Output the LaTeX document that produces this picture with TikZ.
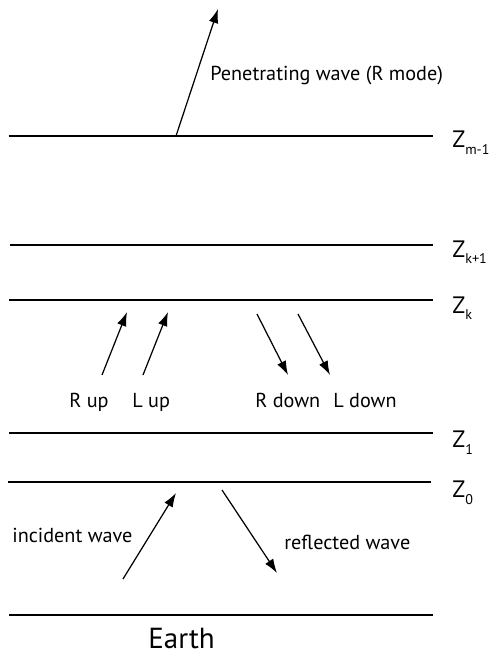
\documentclass[tikz,border=0pt]{standalone}
\usepackage{fontspec}
\setmainfont{PT Sans}
\usetikzlibrary{arrows.meta}

\begin{document}
\begin{tikzpicture}[
  font=\fontsize{11.5}{13}\selectfont,
  layer/.style={line width=0.8pt},
  wave/.style={line width=0.7pt, -{Latex[length=8pt,width=5.5pt]}},
  lbl/.style={anchor=base west, inner sep=0pt},
  zlbl/.style={anchor=base west, inner sep=0pt, font=\fontsize{13.5}{15}\selectfont}
]
\useasboundingbox (0,0) rectangle (9.78,13.12);

% layer boundaries
\draw[layer] (0.18,10.40) coordinate (zm1w) -- (8.66,10.40) coordinate (zm1e);
\draw[layer] (0.20,8.22)  coordinate (zkpw) -- (8.66,8.22)  coordinate (zkpe);
\draw[layer] (0.18,7.12)  coordinate (zkw)  -- (8.66,7.12)  coordinate (zke);
\draw[layer] (0.18,4.46)  coordinate (z1w)  -- (8.66,4.46)  coordinate (z1e);
\draw[layer] (0.16,3.48)  coordinate (z0w)  -- (8.62,3.48)  coordinate (z0e);
\draw[layer] (0.18,0.82)  coordinate (earthw) -- (8.66,0.82) coordinate (earthe);

% heights
\node[zlbl] (zm1) at (9.04,10.16) {Z\raisebox{-3.6pt}{\fontsize{8}{9}\selectfont m-1}};
\node[zlbl] (zkp) at (9.04,7.98)  {Z\raisebox{-3.6pt}{\fontsize{8}{9}\selectfont k+1}};
\node[zlbl] (zk)  at (9.04,6.86)  {Z\raisebox{-3.6pt}{\fontsize{8}{9}\selectfont k}};
\node[zlbl] (z1)  at (9.04,4.16)  {Z\raisebox{-3.6pt}{\fontsize{8}{9}\selectfont 1}};
\node[zlbl] (z0)  at (9.04,3.16)  {Z\raisebox{-3.6pt}{\fontsize{8}{9}\selectfont 0}};

% top: escaping wave
\coordinate (pen0) at (3.52,10.40);
\coordinate (pen1) at (4.36,12.94);
\draw[wave] (pen0) -- (pen1);
\node[lbl] (pen) at (4.20,11.52) {Penetrating wave (R mode)};

% inside layer k
\coordinate (ru0) at (2.04,5.62);  \coordinate (ru1) at (2.54,6.88);
\coordinate (lu0) at (2.86,5.62);  \coordinate (lu1) at (3.36,6.88);
\coordinate (rd0) at (5.14,6.84);  \coordinate (rd1) at (5.76,5.62);
\coordinate (ld0) at (5.96,6.84);  \coordinate (ld1) at (6.60,5.62);
\draw[wave] (ru0) -- (ru1);
\draw[wave] (lu0) -- (lu1);
\draw[wave] (rd0) -- (rd1);
\draw[wave] (ld0) -- (ld1);
\node[lbl] (rup)   at (1.38,4.98) {R up};
\node[lbl] (lup)   at (2.64,4.98) {L up};
\node[lbl] (rdown) at (5.10,4.98) {R down};
\node[lbl] (ldown) at (6.66,4.98) {L down};

% bottom: ground reflection
\coordinate (inc0) at (2.46,1.54); \coordinate (inc1) at (3.52,3.26);
\coordinate (ref0) at (4.44,3.32); \coordinate (ref1) at (5.54,1.66);
\draw[wave] (inc0) -- (inc1);
\draw[wave] (ref0) -- (ref1);
\node[lbl] (inc) at (0.24,2.26) {incident wave};
\node[lbl] (ref) at (5.68,2.14) {reflected wave};
\node[lbl, font=\fontsize{16.5}{18}\selectfont] (earth) at (2.96,0.14) {Earth};

\end{tikzpicture}
\end{document}
